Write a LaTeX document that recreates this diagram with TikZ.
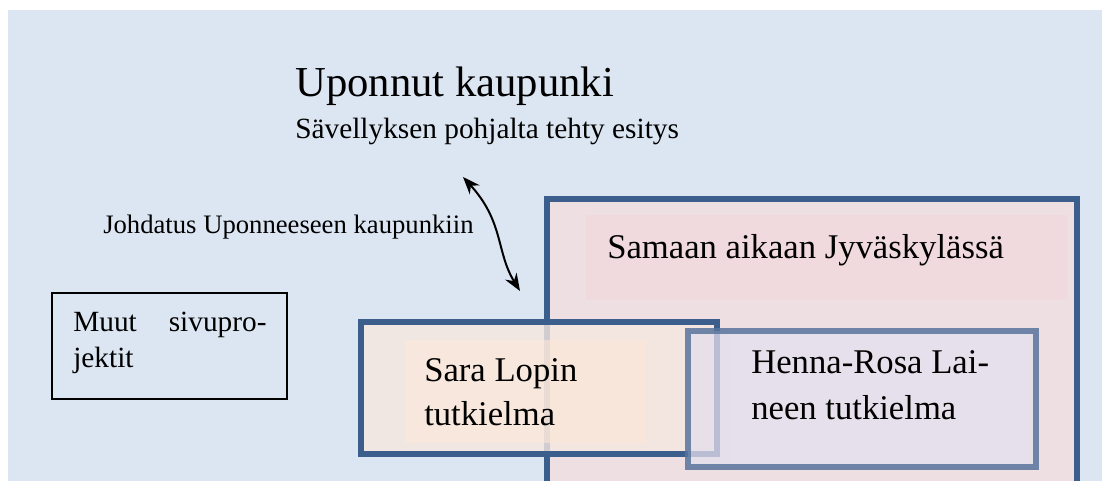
\documentclass[tikz,border=0pt]{standalone}
\usepackage{fontspec}
\setmainfont{Liberation Serif}
\usetikzlibrary{arrows.meta,positioning}

\definecolor{bgblue}{RGB}{220,230,242}
\definecolor{framedark}{RGB}{60,94,140}
\definecolor{framelight}{RGB}{88,116,156}
\definecolor{pinkfill}{RGB}{237,223,226}
\definecolor{pinkinner}{RGB}{241,218,221}
\definecolor{peachfill}{RGB}{245,232,224}
\definecolor{peachinner}{RGB}{252,231,216}
\definecolor{lavfill}{RGB}{227,223,237}
\definecolor{lavinner}{RGB}{232,226,238}

\begin{document}
\begin{tikzpicture}[
    x=0.75pt, y=-0.75pt,
    >={Stealth[length=13pt,width=10pt]},
    frame/.style={draw=framedark, line width=3.9pt},
    lightframe/.style={draw=framelight, draw opacity=0.85, line width=3.9pt},
    lbl/.style={inner sep=0pt, anchor=base west, align=left},
]

% background
\fill[white] (0,0) rectangle (1102,481);
\fill[bgblue] (8,10) rectangle (1102,481);
\useasboundingbox (0,0) rectangle (1102,481);

% === Title ===
\node[lbl, font=\fontsize{32}{38}\selectfont] (title) at (295,97) {Uponnut kaupunki};
\node[lbl, font=\fontsize{22}{26}\selectfont] (subtitle) at (295,139) {Sävellyksen pohjalta tehty esitys};

% === Johdatus ===
\node[lbl, font=\fontsize{20}{24}\selectfont] (johdatus) at (103,233) {Johdatus Uponneeseen kaupunkiin};
\coordinate (jtop) at (463,177);
\coordinate (jbot) at (520,291);
\draw[<->, line width=1.5pt] (jtop) .. controls (504,222) and (496,252) .. (jbot);

% === Samaan aikaan ===
\draw[frame, fill=pinkfill] (547,199) rectangle (1077,540);
\fill[pinkinner] (586,215) rectangle (1068,300);
\node[lbl, font=\fontsize{26}{34}\selectfont] (samaan) at (607,258) {Samaan aikaan Jyväskylässä};

% === Sara ===
\fill[peachfill, fill opacity=0.8] (361,322) rectangle (717,454);
\fill[peachinner, fill opacity=0.6] (405,340) rectangle (646,443);
\draw[frame] (361,322) rectangle (717,454);
\node[lbl, font=\fontsize{26}{33}\selectfont] (sara) at (424,425) {Sara Lopin\\tutkielma};

% === Henna-Rosa ===
\fill[lavfill, fill opacity=0.75] (688,331) rectangle (1036,467);
\fill[lavinner, fill opacity=0.5] (731,333) rectangle (1028,465);
\draw[lightframe] (688,331) rectangle (1036,467);
\node[lbl, font=\fontsize{26}{34}\selectfont] (henna) at (751,419) {Henna-Rosa Lai-\\neen tutkielma};

% === Muut ===
\draw[black, line width=1.6pt] (52,293) rectangle (287,399);
\node[lbl, text width=145pt, font=\fontsize{22}{27}\selectfont] (muut) at (73,331) {Muut\hfill sivupro-\\jektit};

\end{tikzpicture}
\end{document}
